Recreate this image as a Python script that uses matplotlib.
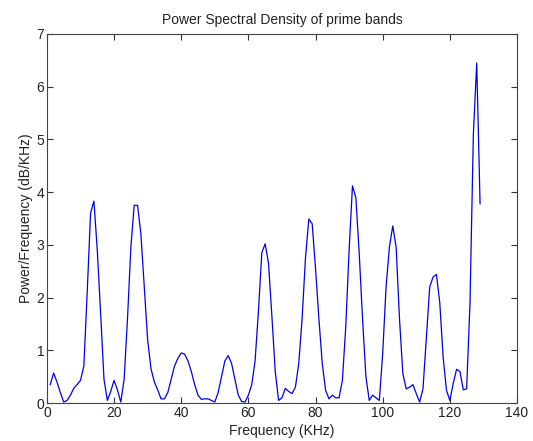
import numpy as np
import matplotlib.pyplot as plt

plt.rcParams['font.family'] = ['Liberation Sans', 'DejaVu Sans']

# frequency bins (KHz)
freq = np.arange(1, 130)

# power spectral density
psd = [0.35, 0.57, 0.40, 0.20, 0.02, 0.05, 0.15, 0.28, 0.35, 0.43,
       0.70, 2.10, 3.60, 3.83, 2.90, 1.70, 0.45, 0.05, 0.22, 0.43,
       0.25, 0.02, 0.45, 1.60, 2.95, 3.75, 3.75, 3.20, 2.20, 1.20,
       0.65, 0.40, 0.25, 0.08, 0.08, 0.20, 0.45, 0.70, 0.85, 0.95,
       0.93, 0.80, 0.60, 0.35, 0.15, 0.07, 0.08, 0.08, 0.05, 0.02,
       0.20, 0.50, 0.80, 0.90, 0.75, 0.45, 0.15, 0.03, 0.02, 0.15,
       0.35, 0.80, 1.75, 2.85, 3.02, 2.65, 1.65, 0.60, 0.05, 0.10,
       0.28, 0.22, 0.18, 0.30, 0.75, 1.60, 2.75, 3.49, 3.40, 2.55,
       1.60, 0.75, 0.24, 0.08, 0.15, 0.10, 0.10, 0.43, 1.45, 2.90,
       4.12, 3.90, 2.85, 1.60, 0.50, 0.05, 0.15, 0.10, 0.05, 0.94,
       2.20, 2.96, 3.36, 2.96, 1.60, 0.56, 0.27, 0.30, 0.35, 0.18,
       0.02, 0.27, 1.25, 2.20, 2.39, 2.44, 1.90, 0.87, 0.24, 0.05,
       0.37, 0.64, 0.60, 0.25, 0.27, 1.90, 5.10, 6.45, 3.78]

fig = plt.figure(figsize=(5.33, 4.41), dpi=100)
ax = fig.add_axes([0.088, 0.086, 0.882, 0.837])

ax.plot(freq, psd, color='#0000ee', lw=0.9)

ax.set_xlim(0, 140)
ax.set_ylim(0, 7)
ax.set_xticks(range(0, 141, 20))
ax.set_yticks(range(0, 8))

ax.tick_params(direction='in', top=True, right=True, labelsize=10,
               length=4, width=0.8, colors='#333333', labelcolor='#222222', pad=2)
for s in ax.spines.values():
    s.set_linewidth(0.8)
    s.set_color('#444444')

ax.set_xlabel('Frequency (KHz)', fontsize=10, labelpad=3, color='#222222')
ax.set_ylabel('Power/Frequency (dB/KHz)', fontsize=10, labelpad=2, color='#222222')
ax.set_title('Power Spectral Density of prime bands', fontsize=10, pad=7, color='#222222')

plt.savefig('out.png')
